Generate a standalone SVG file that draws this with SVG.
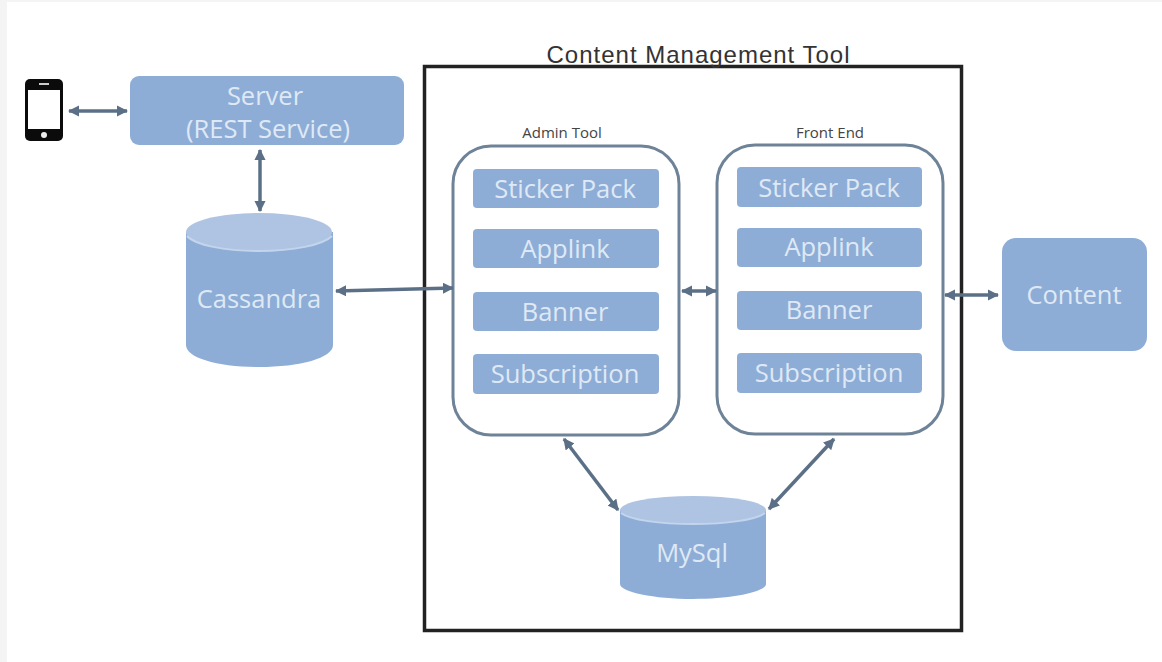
<svg xmlns="http://www.w3.org/2000/svg" width="1162" height="662" viewBox="0 0 1162 662">
<style>
text{font-family:"Open Sans","Liberation Sans",sans-serif;text-anchor:middle}
.b{fill:#8eadd6}
.t{fill:#dfe9f5;font-size:25.500px}
.top{fill:#aec4e2}
.rim{fill:none;stroke:#c3d5ec;stroke-width:2}
.panel{fill:#fff;stroke:#6f8398;stroke-width:3}
.cap{fill:#444;font-size:15px}
.c{stroke:#5b7087;stroke-width:3.500;fill:none;marker-start:url(#a);marker-end:url(#a)}
</style>
<defs>
<marker id="a" viewBox="0 0 10 10" refX="9" refY="5" markerWidth="3.200" markerHeight="3.200" orient="auto-start-reverse"><path d="M0 0L10 5L0 10z" fill="#5b7087"/></marker>
</defs>
<rect width="1162" height="662" fill="#fff"/>
<rect x="0" y="0" width="7" height="662" fill="#f4f4f4"/>
<rect x="0" y="0" width="1162" height="2" fill="#f4f4f4"/>
<g id="cms">
<rect x="424.500" y="66.500" width="537" height="564" fill="#fff" stroke="#222" stroke-width="3.500"/>
<text x="698" y="63" font-size="24" fill="#333" style="font-family:'Liberation Sans',sans-serif" textLength="303" lengthAdjust="spacing">Content Management Tool</text>
</g>
<g id="phone">
<rect x="25" y="79" width="38" height="62" rx="5" fill="#0b0b0b"/>
<rect x="28" y="90" width="32" height="39" fill="#fff"/>
<circle cx="44" cy="135" r="3" fill="#eee"/>
<rect x="39" y="83" width="10" height="2" fill="#ccc"/>
</g>
<g id="server">
<rect class="b" x="130" y="76" width="274" height="69" rx="9"/>
<text class="t" x="265" y="105">Server</text>
<text class="t" x="268" y="138">(REST Service)</text>
</g>
<g id="cassandra">
<path class="b" d="M186 232V345C186 358 218 367 259 367S333 358 333 345V232z"/>
<ellipse class="top" cx="259" cy="232" rx="73" ry="19"/>
<path class="rim" d="M187 236C195 245 225 251 259 251S323 245 332 236"/>
<text class="t" x="259" y="308">Cassandra</text>
</g>
<g id="admin-tool">
<text class="cap" x="562" y="138">Admin Tool</text>
<rect class="panel" x="453" y="146" width="226" height="289" rx="38"/>
<g><rect class="b" x="473" y="169" width="186" height="39" rx="4"/><text class="t" x="565" y="198">Sticker Pack</text></g>
<g><rect class="b" x="473" y="229" width="186" height="39" rx="4"/><text class="t" x="565" y="258">Applink</text></g>
<g><rect class="b" x="473" y="292" width="186" height="39" rx="4"/><text class="t" x="565" y="321">Banner</text></g>
<g><rect class="b" x="473" y="354" width="186" height="40" rx="4"/><text class="t" x="565" y="383">Subscription</text></g>
</g>
<g id="front-end">
<text class="cap" x="830" y="138">Front End</text>
<rect class="panel" x="717" y="145" width="226" height="289" rx="38"/>
<g><rect class="b" x="737" y="167" width="185" height="40" rx="4"/><text class="t" x="829" y="197">Sticker Pack</text></g>
<g><rect class="b" x="737" y="228" width="185" height="39" rx="4"/><text class="t" x="829" y="256">Applink</text></g>
<g><rect class="b" x="737" y="291" width="185" height="39" rx="4"/><text class="t" x="829" y="319">Banner</text></g>
<g><rect class="b" x="737" y="353" width="185" height="40" rx="4"/><text class="t" x="829" y="382">Subscription</text></g>
</g>
<g id="mysql">
<path class="b" d="M620 510V584C620 592 654 599 693 599S766 592 766 584V510z"/>
<ellipse class="top" cx="693" cy="510" rx="73" ry="14"/>
<path class="rim" d="M621 513C630 520 660 524 693 524S756 520 765 513"/>
<text class="t" x="692" y="562">MySql</text>
</g>
<g id="content">
<rect class="b" x="1002" y="238" width="145" height="113" rx="14"/>
<text class="t" x="1074" y="304">Content</text>
</g>
<g id="connectors">
<line class="c" x1="69" y1="111" x2="127" y2="111"/>
<line class="c" x1="260" y1="150" x2="260" y2="211"/>
<line class="c" x1="336" y1="291" x2="453" y2="288"/>
<line class="c" x1="682" y1="291" x2="716" y2="291"/>
<line class="c" x1="945" y1="295" x2="998" y2="295"/>
<line class="c" x1="564" y1="439" x2="618" y2="510"/>
<line class="c" x1="834" y1="439" x2="769" y2="509"/>
</g>
</svg>
